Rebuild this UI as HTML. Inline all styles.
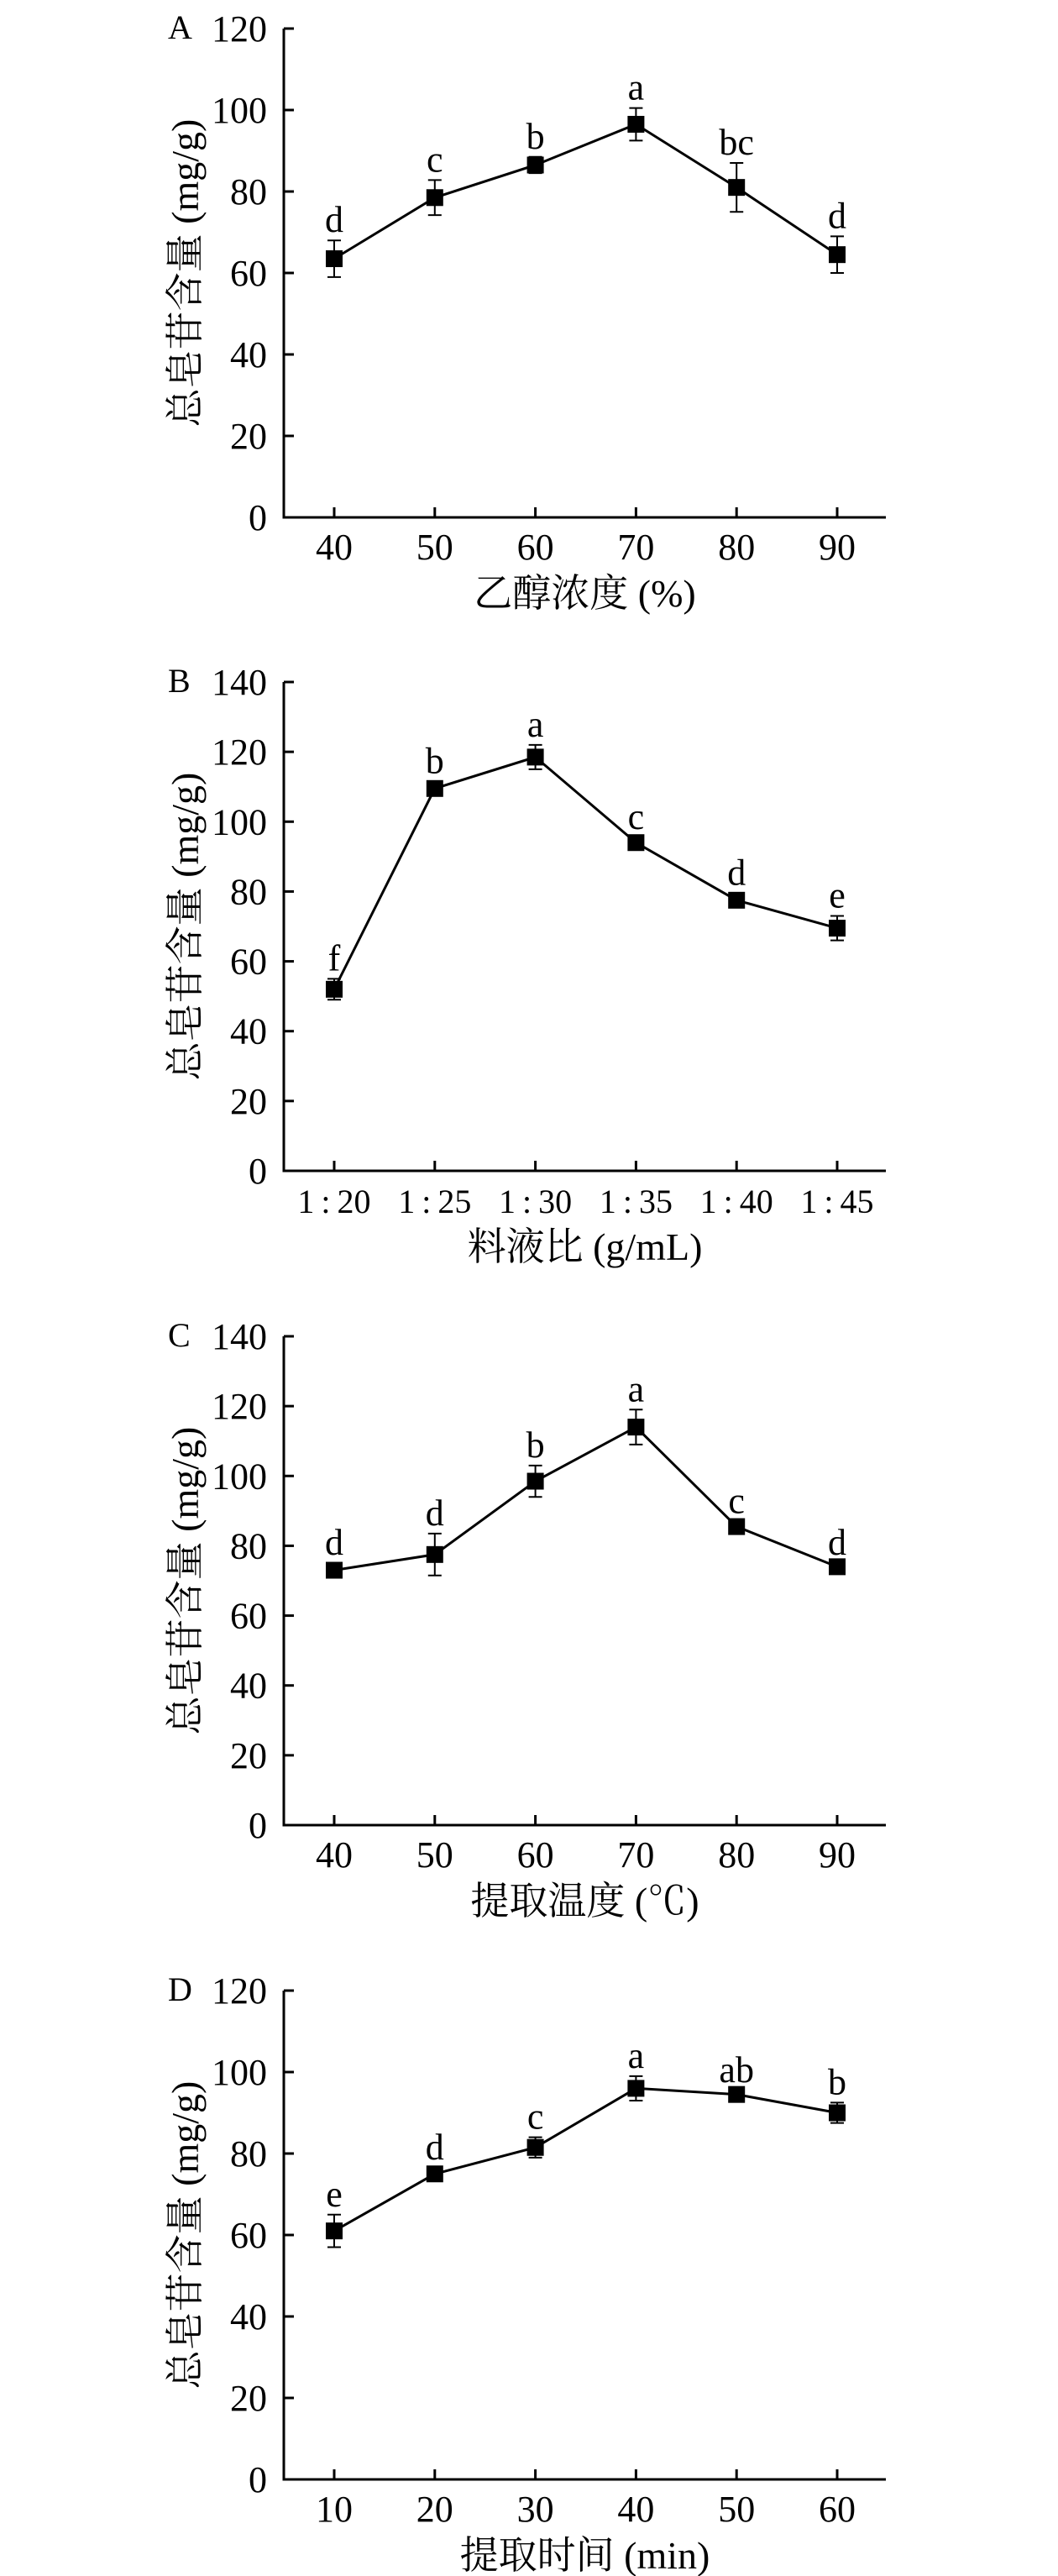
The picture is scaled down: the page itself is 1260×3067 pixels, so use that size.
<!DOCTYPE html>
<html><head><meta charset="utf-8">
<style>
html,body{margin:0;padding:0;background:#fff;}
svg{display:block;}
text{font-family:"Liberation Serif","Noto Serif CJK SC","Noto Sans CJK SC",serif;fill:#000;}
</style></head>
<body>
<svg id="chart" width="1260" height="3067" viewBox="0 0 1260 3067" xmlns="http://www.w3.org/2000/svg"></svg>
<script>
// Panel A
const catsA = ["40","50","60","70","80","90"];
const valsA = [63.5,78.5,86.5,96.5,81,64.5];
const errA = [4.5,4.3,2,4,6,4.5];
const sigA = ["d","c","b","a","bc","d"];
const ticksA = [0,20,40,60,80,100,120];
// Panel B
const catsB = ["1\u2009:\u200920","1\u2009:\u200925","1\u2009:\u200930","1\u2009:\u200935","1\u2009:\u200940","1\u2009:\u200945"];
const valsB = [52,109.5,118.5,94,77.5,69.5];
const errB = [3,2,3.5,1.5,2,3.5];
const sigB = ["f","b","a","c","d","e"];
const ticksB = [0,20,40,60,80,100,120,140];
// Panel C
const catsC = ["40","50","60","70","80","90"];
const valsC = [73,77.5,98.5,114,85.5,74];
const errC = [2,6,4.5,5,1.5,1];
const sigC = ["d","d","b","a","c","d"];
const ticksC = [0,20,40,60,80,100,120,140];
// Panel D
const catsD = ["10","20","30","40","50","60"];
const valsD = [61,75,81.5,96,94.5,90];
const errD = [4,1.5,2.5,3,1,2.5];
const sigD = ["e","d","c","a","ab","b"];
const ticksD = [0,20,40,60,80,100,120];

const svg = document.getElementById('chart');
const NS = 'http://www.w3.org/2000/svg';
function mk(tag, attrs, parent){
  const e = document.createElementNS(NS, tag);
  for (const k in attrs) e.setAttribute(k, attrs[k]);
  (parent||svg).appendChild(e);
  return e;
}

function panel(key, letter, cats, vals, errs, sigs, ticks, xtitle, y0, xfs){
  const g = mk('g', {});
  
  
  const x0 = 338, xEnd = 1055, H = 582;
  const ymax = ticks[ticks.length-1];
  const ys = v => y0 - v / ymax * H;
  const xs = i => 398 + i * 119.8;
  const ax = mk('path', {d:`M${x0} ${y0-H} V${y0} H${xEnd}`, fill:'none', stroke:'#000', 'stroke-width':3}, g);
  
  
  ticks.forEach(t => {
    const y = ys(t);
    const tk = mk('line', {x1:x0, x2:x0+12, y1:y, y2:y, stroke:'#000', 'stroke-width':3}, g);
    
    
    const tl = mk('text', {x:318, y:y+15, 'text-anchor':'end', 'font-size':44}, g);
    tl.textContent = t;
    
    
  });
  cats.forEach((c, i) => {
    const x = xs(i);
    const tk = mk('line', {x1:x, x2:x, y1:y0, y2:y0-12, stroke:'#000', 'stroke-width':3}, g);
    
    
    const tl = mk('text', {x:x, y:y0+50, 'text-anchor':'middle', 'font-size':xfs}, g);
    tl.textContent = c;
    
    
  });
  const pts = vals.map((v, i) => xs(i) + ',' + ys(v)).join(' ');
  const ln = mk('polyline', {points:pts, fill:'none', stroke:'#000', 'stroke-width':3}, g);
  
  
  vals.forEach((v, i) => {
    const x = xs(i), y = ys(v), e = errs[i];
    const eb = mk('path', {d:`M${x} ${ys(v+e)} V${ys(v-e)} M${x-8} ${ys(v+e)} H${x+8} M${x-8} ${ys(v-e)} H${x+8}`, fill:'none', stroke:'#000', 'stroke-width':2}, g);
    
    
    const m = mk('rect', {x:x-10, y:y-10, width:20, height:20, fill:'#000'}, g);
    
    
    const s = mk('text', {x:x, y:ys(v+e)-10, 'text-anchor':'middle', 'font-size':44}, g);
    s.textContent = sigs[i];
    
    
  });
  const pl = mk('text', {x:200, y:y0-H+12, 'font-size':40}, g);
  pl.textContent = letter;
  
  
  const cy = y0 - H/2;
  const yt = mk('text', {x:0, y:0, 'text-anchor':'middle', 'font-size':46, transform:`translate(236 ${cy}) rotate(-90)`}, g);
  yt.textContent = '总皂苷含量 (mg/g)';
  
  
  const xt = mk('text', {x:(x0+xEnd)/2, y:y0+106, 'text-anchor':'middle', 'font-size':46}, g);
  xt.textContent = xtitle;
  
  
}

panel('a', 'A', catsA, valsA, errA, sigA, ticksA, '乙醇浓度 (%)', 616, 44);
panel('b', 'B', catsB, valsB, errB, sigB, ticksB, '料液比 (g/mL)', 1394, 40);
panel('c', 'C', catsC, valsC, errC, sigC, ticksC, '提取温度 (℃)', 2173, 44);
panel('d', 'D', catsD, valsD, errD, sigD, ticksD, '提取时间 (min)', 2952, 44);
</script>
</body></html>
